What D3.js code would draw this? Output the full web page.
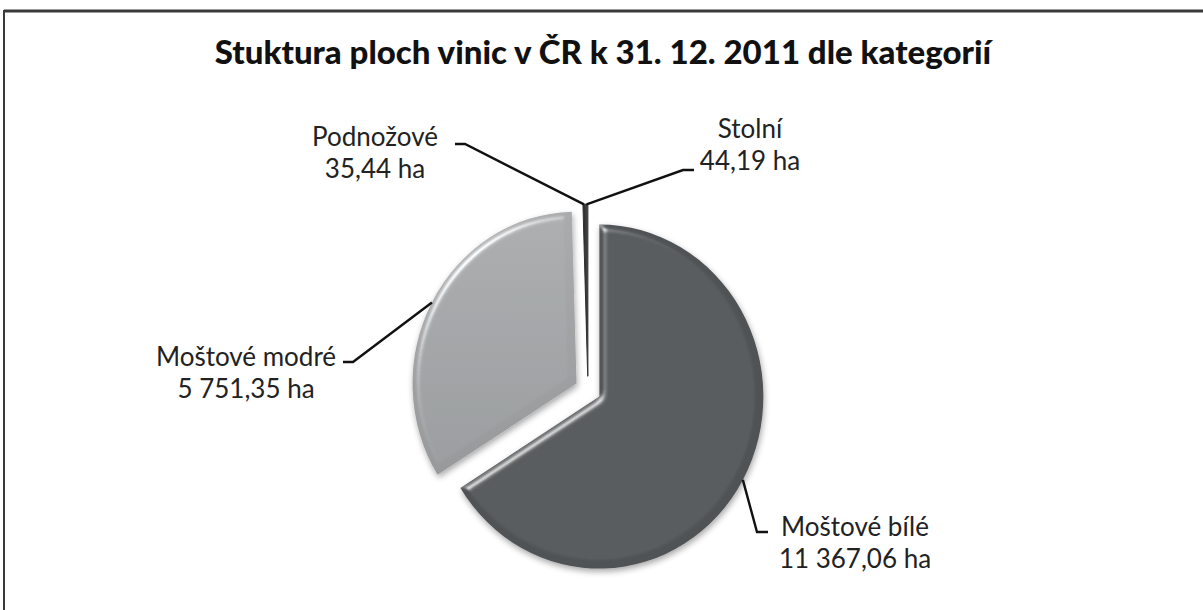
<!DOCTYPE html>
<html>
<head>
<meta charset="utf-8">
<script src="https://cdn.jsdelivr.net/npm/d3@7.9.0/dist/d3.min.js"></script>
<style>
  body { margin: 0; background: #fff; }
  svg { display: block; }
  .lbl { font-family: Lato, "Open Sans", sans-serif; font-size: 26px; fill: #222; }
  .title { font-family: Lato, sans-serif; font-weight: 900; font-size: 33px; fill: #111; }
</style>
</head>
<body>
<svg width="1203" height="610"></svg>
<script>
// data
const categories = ["Moštové bílé", "Moštové modré", "Podnožové", "Stolní"];
const areas = [11367.06, 5751.35, 35.44, 44.19];
const valueLabels = ["11 367,06 ha", "5 751,35 ha", "35,44 ha", "44,19 ha"];
const sliceColors = ["#4f5355", "#a1a3a5", "#2e3032", "#3a3c3e"];
const titleText = "Stuktura ploch vinic v ČR k 31. 12. 2011 dle kategorií";

const width = 1203, height = 610;
const cx = 588, cy = 390;      // pie centre
const rx = 164, ry = 172;      // picture is a bit stretched vertically
const k = ry / rx;
const explode = 13;

// where the labels sit (centre of first text line) and which side the stub goes
const labelPos = [
  { x: 855, y: 527, side: "right" },
  { x: 246, y: 357, side: "left" },
  { x: 375, y: 137, side: "left" },
  { x: 750, y: 129, side: "right" }
];

const svg = d3.select("svg");

// frame lines (top + left)
svg.append("line").attr("x1", 4).attr("x2", width).attr("y1", 11).attr("y2", 11)
  .attr("stroke", "#3a3a3a").attr("stroke-width", 3);
svg.append("line").attr("x1", 4).attr("x2", 4).attr("y1", 10).attr("y2", height)
  .attr("stroke", "#3a3a3a").attr("stroke-width", 2);

svg.append("text").attr("class", "title")
  .attr("x", 603).attr("y", 64).attr("text-anchor", "middle")
  .text(titleText);

// bevel + shadow filter
const defs = svg.append("defs");
const f = defs.append("filter").attr("id", "bevel")
  .attr("x", "-10%").attr("y", "-10%").attr("width", "130%").attr("height", "130%");
f.append("feGaussianBlur").attr("in", "SourceAlpha").attr("stdDeviation", 3.5).attr("result", "blur");
const spec = f.append("feSpecularLighting").attr("in", "blur")
  .attr("surfaceScale", 5).attr("specularConstant", 0.75).attr("specularExponent", 28)
  .attr("lighting-color", "#ffffff").attr("result", "spec");
spec.append("feDistantLight").attr("azimuth", 225).attr("elevation", 35);
f.append("feComposite").attr("in", "spec").attr("in2", "SourceAlpha").attr("operator", "in").attr("result", "specIn");
f.append("feComposite").attr("in", "SourceGraphic").attr("in2", "specIn")
  .attr("operator", "arithmetic").attr("k1", 0).attr("k2", 1).attr("k3", 0.8).attr("k4", 0).attr("result", "lit");
f.append("feGaussianBlur").attr("in", "SourceAlpha").attr("stdDeviation", 3).attr("result", "sblur");
f.append("feOffset").attr("in", "sblur").attr("dx", 1).attr("dy", 3).attr("result", "soff");
f.append("feComponentTransfer").attr("in", "soff").attr("result", "shadow")
  .append("feFuncA").attr("type", "linear").attr("slope", 0.35);
const merge = f.append("feMerge");
merge.append("feMergeNode").attr("in", "shadow");
merge.append("feMergeNode").attr("in", "lit");

const grad = defs.append("linearGradient").attr("id", "lightGrad")
  .attr("x1", 0).attr("y1", 0).attr("x2", 0).attr("y2", 1);
grad.append("stop").attr("offset", "0%").attr("stop-color", "#a9abad");
grad.append("stop").attr("offset", "100%").attr("stop-color", "#97999b");

const pie = d3.pie().sort(null).value(d => d);
const arcs = pie(areas);
const arc = d3.arc().innerRadius(0).outerRadius(rx);

const mid = d => (d.startAngle + d.endAngle) / 2;
const offset = d => [explode * Math.sin(mid(d)), -explode * Math.cos(mid(d)) * k];
const isTiny = d => (d.endAngle - d.startAngle) < 0.1;

svg.append("g").selectAll("path")
  .data(arcs)
  .join("path")
  .attr("d", arc)
  .attr("transform", d => {
    const [ox, oy] = offset(d);
    return `translate(${cx + ox},${cy + oy}) scale(1,${k})`;
  })
  .attr("fill", (d, i) => i === 1 ? "url(#lightGrad)" : sliceColors[i])
  .attr("stroke", (d, i) => isTiny(d) ? sliceColors[i] : "none")
  .attr("stroke-width", 1)
  .attr("filter", d => isTiny(d) ? null : "url(#bevel)");

// leader lines
const leaders = svg.append("g");
arcs.forEach((d, i) => {
  const [ox, oy] = offset(d);
  const a = mid(d);
  const p0 = [cx + ox + rx * Math.sin(a), cy + oy - ry * Math.cos(a)];
  const lp = labelPos[i];
  const stubY = lp.y + (i < 2 ? 5 : 7 + (i === 3 ? 34 : 0));
  let elbow, end;
  if (lp.side === "right") {
    const lx = i === 0 ? 768 : 694;
    elbow = [lx - 11, stubY]; end = [lx, stubY];
  } else {
    const lx = i === 1 ? 343 : 455;
    elbow = [lx + 10, stubY]; end = [lx, stubY];
  }
  leaders.append("path")
    .attr("d", d3.line()([p0, elbow, end]))
    .attr("fill", "none").attr("stroke", "#111").attr("stroke-width", 2.4);
});

// labels
const lbl = svg.append("g");
arcs.forEach((d, i) => {
  const lp = labelPos[i];
  const t = lbl.append("text").attr("class", "lbl").attr("text-anchor", "middle");
  t.append("tspan").attr("x", lp.x).attr("y", lp.y + 9).text(categories[i]);
  t.append("tspan").attr("x", lp.x).attr("y", lp.y + 41).text(valueLabels[i]);
});
</script>
</body>
</html>
